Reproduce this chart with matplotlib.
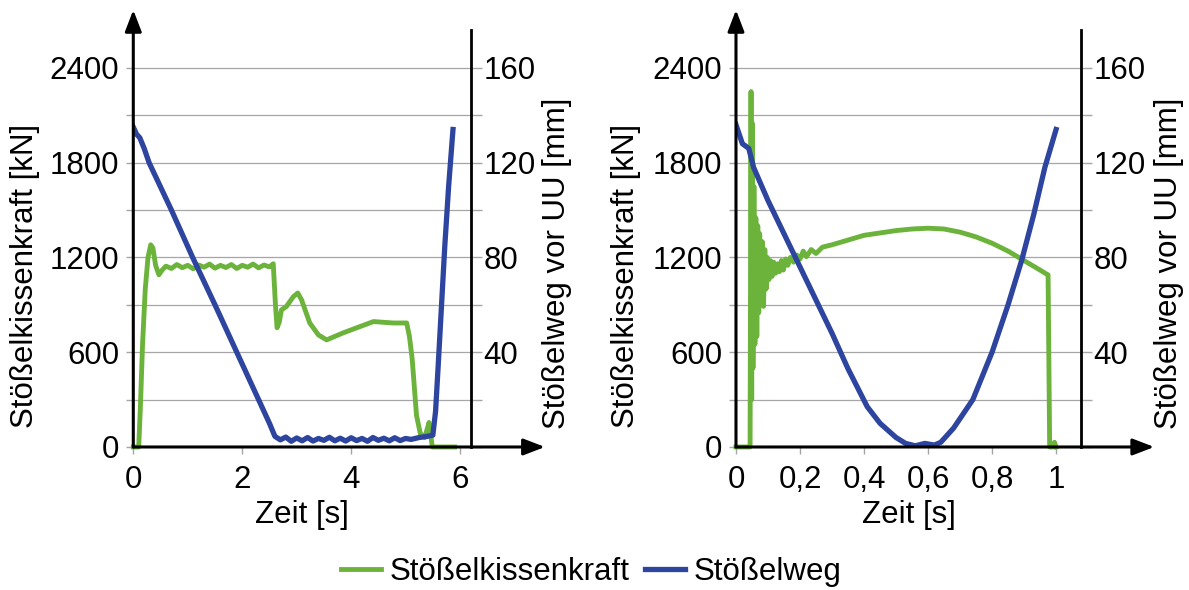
import matplotlib
matplotlib.use('Agg')
import matplotlib.pyplot as plt

plt.rcParams['font.family'] = ['Liberation Sans', 'DejaVu Sans']

# ---- left panel: slow stroke (time in s) ----
t_kraft_1 = [0, 0.10, 0.13, 0.17, 0.22, 0.27, 0.32, 0.36, 0.41, 0.47, 0.53, 0.60,
             0.7, 0.8, 0.9, 1.0, 1.1, 1.2, 1.3, 1.4, 1.5, 1.6, 1.7, 1.8, 1.9,
             2.0, 2.1, 2.2, 2.3, 2.4, 2.5, 2.57,
             2.61, 2.64, 2.68, 2.72, 2.81, 2.94, 3.02, 3.09, 3.24, 3.40, 3.55,
             3.85, 4.16, 4.41, 4.77, 5.02, 5.07, 5.12, 5.20, 5.27, 5.35, 5.41,
             5.43, 5.46, 5.49, 5.90]
kraft_1 = [0, 0, 250, 650, 1000, 1200, 1280, 1260, 1150, 1090, 1120, 1145,
           1130, 1155, 1135, 1150, 1128, 1152, 1138, 1158, 1132, 1150, 1136, 1155, 1130,
           1150, 1138, 1158, 1134, 1152, 1140, 1160,
           900, 755, 790, 868, 889, 952, 975, 931, 785, 709, 678,
           722, 762, 794, 785, 785, 700, 560, 200, 85, 60, 130,
           155, 80, 0, 0]

t_weg_1 = [0, 0.06, 0.12, 0.20, 0.29, 0.70, 1.09, 1.50, 1.90, 2.30, 2.50,
           2.60, 2.70, 2.8, 2.9, 3.0, 3.1, 3.2, 3.3, 3.4, 3.5, 3.6, 3.7, 3.8,
           3.9, 4.0, 4.1, 4.2, 4.3, 4.4, 4.5, 4.6, 4.7, 4.8, 4.9, 5.0,
           5.1, 5.25, 5.40, 5.50, 5.55, 5.60, 5.66, 5.72, 5.79, 5.87]
weg_1 = [135, 132, 130.5, 126, 120, 100, 80, 60, 40, 20, 10,
         4.5, 3, 4.2, 2.4, 3.8, 2.6, 4.0, 2.5, 3.6, 2.8, 4.1, 2.6, 3.7,
         2.5, 3.9, 2.7, 3.6, 2.4, 4.0, 2.8, 3.7, 2.6, 3.9, 2.7, 3.6,
         3.2, 4.0, 4.5, 5, 15, 35, 60, 85, 110, 134]

# ---- right panel: fast stroke (time in s) ----
t_kraft_2 = [0, 0.044, 0.047, 0.049, 0.051, 0.053, 0.056, 0.059, 0.062, 0.065,
             0.068, 0.071, 0.074, 0.078, 0.082, 0.086, 0.090, 0.094, 0.098,
             0.103, 0.108, 0.113, 0.118, 0.124, 0.130, 0.136, 0.142, 0.148,
             0.155, 0.162, 0.170, 0.180, 0.190, 0.20, 0.21, 0.22, 0.235, 0.25,
             0.27, 0.30, 0.35, 0.40, 0.45, 0.50, 0.55, 0.60, 0.65, 0.70, 0.75,
             0.80, 0.85, 0.90, 0.95, 0.970, 0.975, 0.980, 0.990, 0.995, 1.0]
kraft_2 = [0, 0, 2250, 300, 2050, 500, 1650, 650, 1450, 700,
           1400, 850, 1350, 950, 1300, 890, 1250, 1000, 1200,
           1060, 1180, 1080, 1170, 1100, 1160, 1110, 1180, 1120,
           1190, 1150, 1200, 1170, 1215, 1190, 1240, 1205, 1250, 1225,
           1265, 1280, 1310, 1340, 1355, 1370, 1380, 1385, 1380, 1360, 1330,
           1290, 1240, 1180, 1120, 1095, 1090, 0, 0, 30, 0]

t_weg_2 = [0, 0.02, 0.04, 0.055, 0.10, 0.15, 0.20, 0.25, 0.30, 0.35, 0.41, 0.45,
           0.50, 0.53, 0.56, 0.59, 0.62, 0.64, 0.68, 0.74, 0.80, 0.85, 0.893,
           0.93, 0.965, 1.0]
weg_2 = [136, 128, 126, 118, 104, 90, 76, 62, 48, 33, 17, 10,
         4, 1.5, 0.5, 1.5, 0.8, 2, 8, 20, 40, 60, 79,
         98, 118, 134]

kraft_ticks = [0, 600, 1200, 1800, 2400]
weg_ticks = [40, 80, 120, 160]
zeit_ticks_1 = [0, 2, 4, 6]
zeit_labels_1 = ['0', '2', '4', '6']
zeit_ticks_2 = [0, 0.2, 0.4, 0.6, 0.8, 1.0]
zeit_labels_2 = ['0', '0,2', '0,4', '0,6', '0,8', '1']

GREEN = '#6cb33c'
BLUE = '#2e45a0'
GRID = '#a6a6a6'
FS = 22.5

fig = plt.figure(figsize=(11.89, 5.9), dpi=100)


def panel(rect, xmax, t_k, k, t_w, w, xticks, xlabels, arrow_x):
    ax = fig.add_axes(rect)
    ax.set_xlim(0, xmax)
    ax.set_ylim(0, 2640)
    for s in ax.spines.values():
        s.set_visible(False)
    ax.set_yticks(kraft_ticks)
    ax.set_yticks(range(0, 2641, 300), minor=True)
    ax.set_yticklabels([str(v) for v in kraft_ticks])
    ax.set_xticks(xticks)
    ax.set_xticklabels(xlabels)
    ax.grid(True, axis='y', which='both', color=GRID, lw=0.9)
    ax.set_axisbelow(True)
    ax.tick_params(axis='y', which='both', length=5, color=GRID, width=1,
                   labelsize=FS, pad=5)
    ax.tick_params(axis='x', length=5, color=GRID, width=1, labelsize=FS, pad=8)

    l1, = ax.plot(t_k, k, color=GREEN, lw=3.5, label='Stößelkissenkraft',
                  clip_on=False, zorder=3)

    ax2 = ax.twinx()
    ax2.set_ylim(0, 176)
    for name, s in ax2.spines.items():
        s.set_visible(name == 'right')
    ax2.spines['right'].set_linewidth(2)
    ax2.set_yticks(weg_ticks)
    ax2.set_yticks(range(0, 177, 20), minor=True)
    ax2.set_yticklabels([str(v) for v in weg_ticks])
    ax2.tick_params(axis='y', which='both', length=8, color=GRID, width=1,
                    labelsize=FS, pad=1)
    l2, = ax2.plot(t_w, w, color=BLUE, lw=3.8, label='Stößelweg', zorder=3)

    # axis arrows
    arr = dict(arrowstyle='-|>,head_length=0.65,head_width=0.25',
               mutation_scale=20, lw=2.2, color='black', shrinkA=0, shrinkB=0)
    ax2.annotate('', xy=(0, 1.048), xytext=(0, 0), xycoords='axes fraction',
                 textcoords='axes fraction', arrowprops=arr)
    ax2.annotate('', xy=(arrow_x, 0), xytext=(0, 0), xycoords='axes fraction',
                 textcoords='axes fraction', arrowprops=arr)

    ax.text(-0.32, 0.41, 'Stößelkissenkraft [kN]', rotation=90, fontsize=FS,
            ha='center', va='center', transform=ax.transAxes)
    ax.text(1.255, 0.44, 'Stößelweg vor UU [mm]', rotation=90, fontsize=FS,
            ha='center', va='center', transform=ax.transAxes)
    ax.text(0.5, -0.163, 'Zeit [s]', fontsize=FS, ha='center', va='center',
            transform=ax.transAxes)
    return l1, l2


h = panel([0.1121, 0.2424, 0.2840, 0.7068], 6.2, t_kraft_1, kraft_1,
          t_weg_1, weg_1, zeit_ticks_1, zeit_labels_1, 1.219)
panel([0.6190, 0.2424, 0.2902, 0.7068], 1.078, t_kraft_2, kraft_2,
      t_weg_2, weg_2, zeit_ticks_2, zeit_labels_2, 1.212)

fig.legend(h, [l.get_label() for l in h], loc='center', ncol=2,
           bbox_to_anchor=(0.497, 0.03), frameon=False, fontsize=FS,
           handlelength=1.3, handletextpad=0.25, columnspacing=0.5)

fig.savefig('out.png', dpi=100)
